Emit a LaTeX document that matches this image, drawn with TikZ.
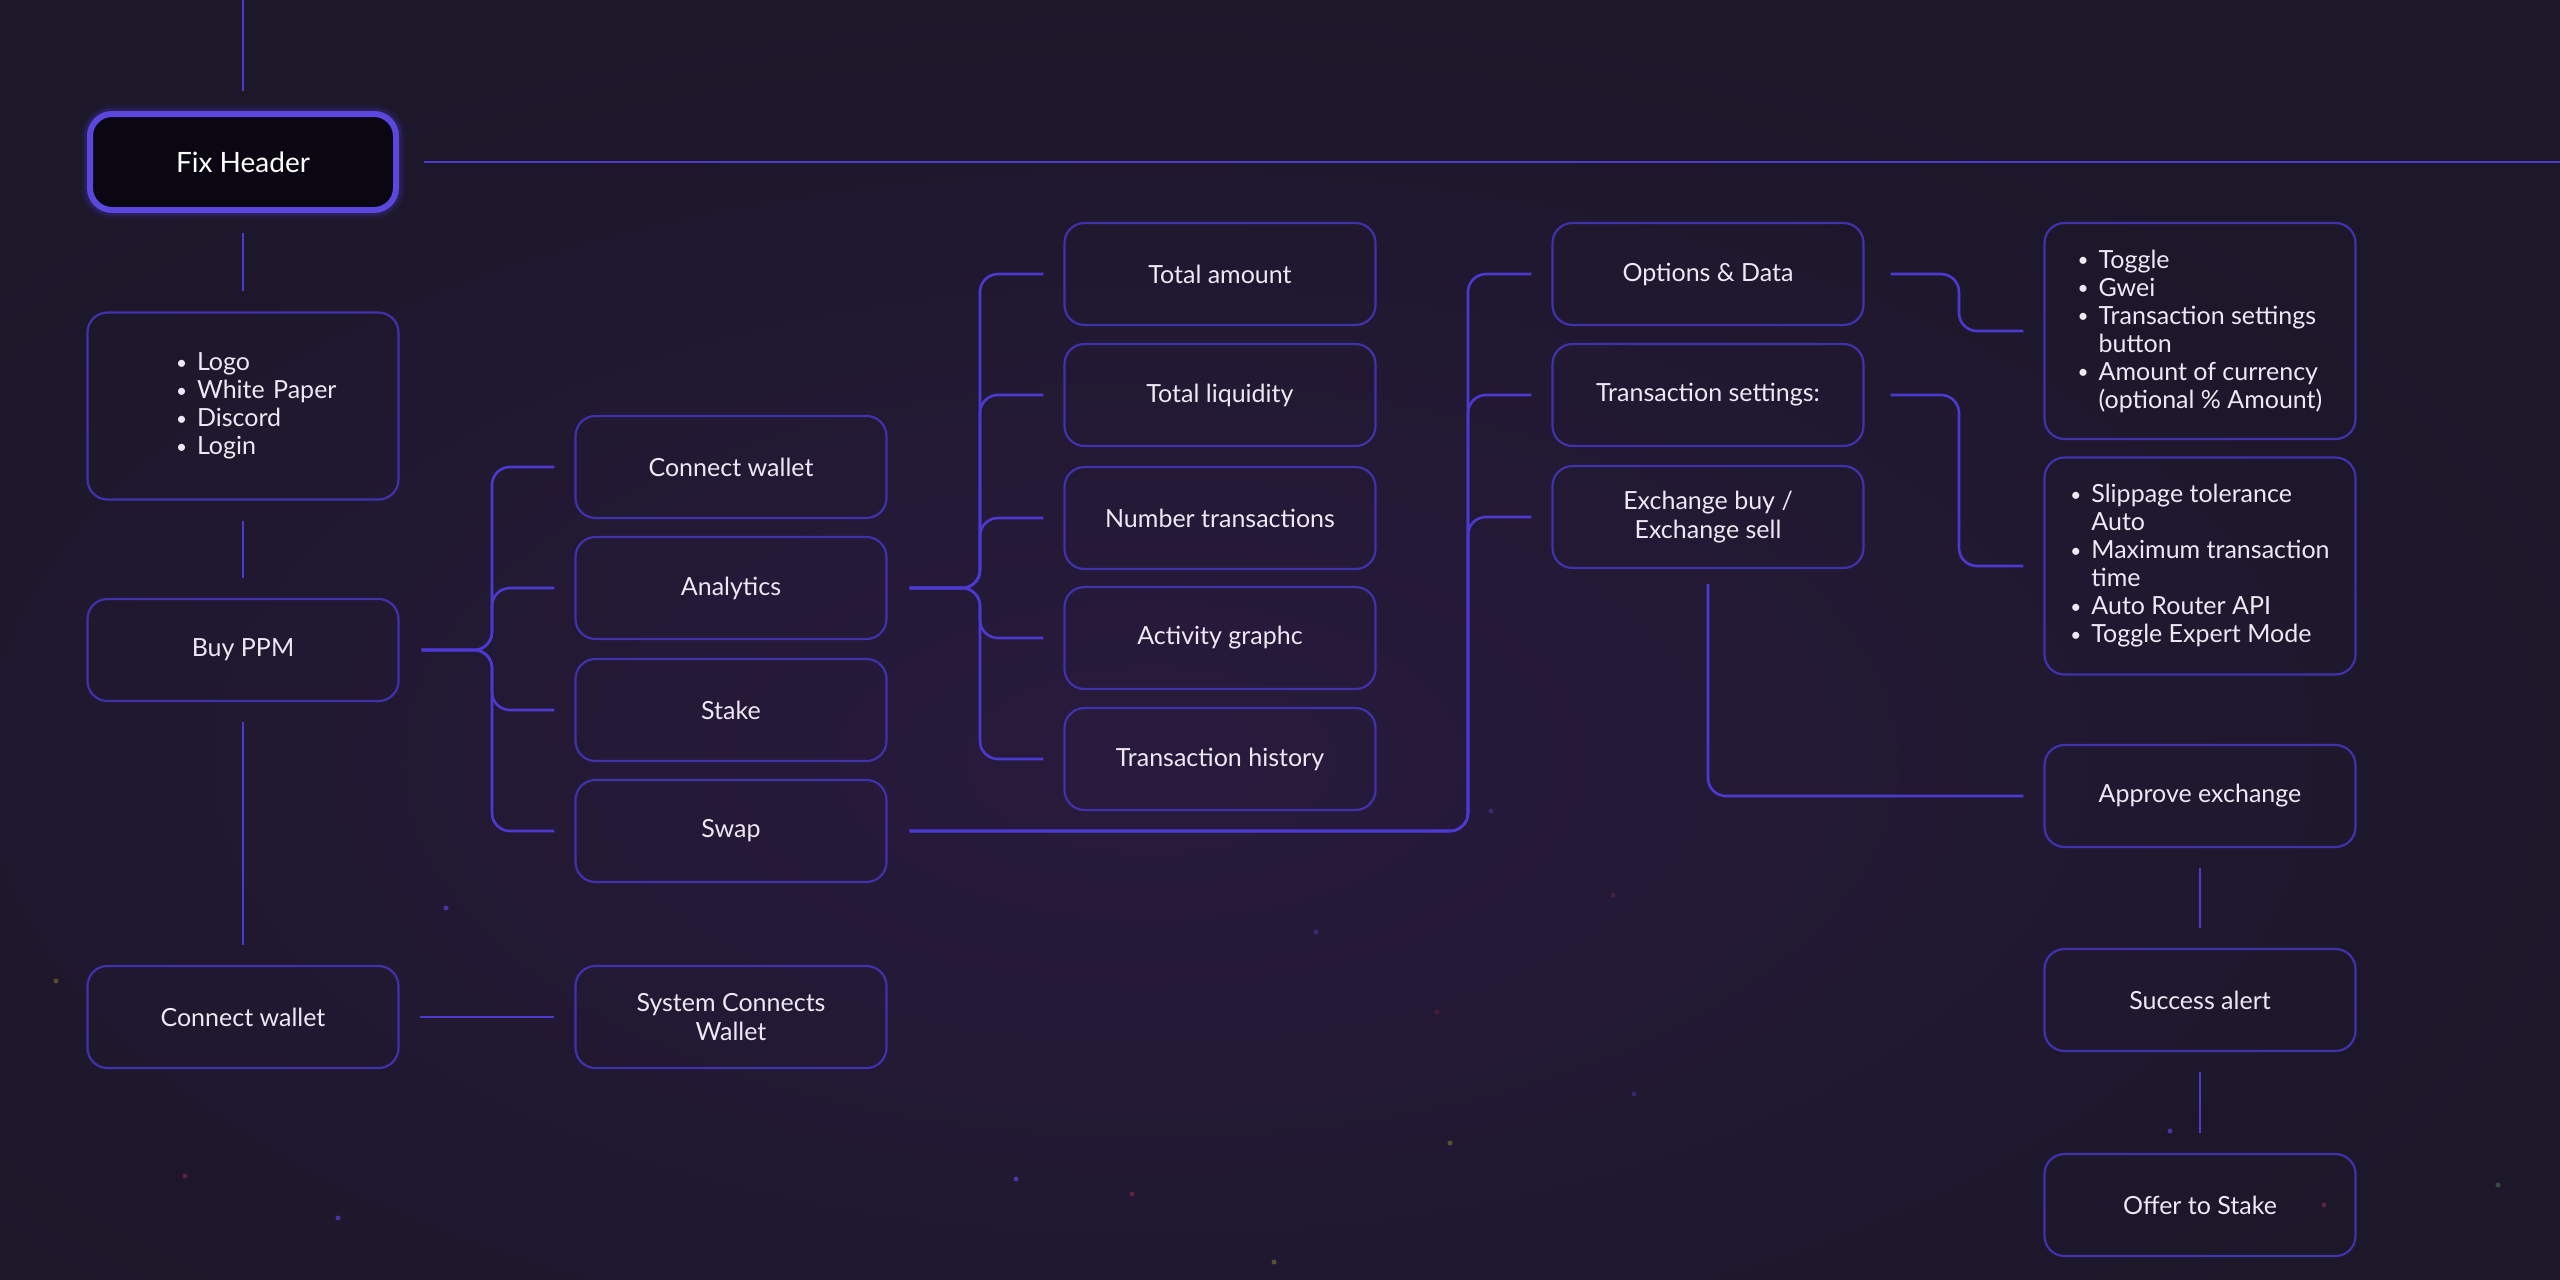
\documentclass[tikz,border=0pt]{standalone}
\usepackage{fontspec}
\setmainfont{Lato}
\definecolor{bg}{HTML}{1C1729}
\definecolor{bgglow}{HTML}{281A3D}
\definecolor{ln}{HTML}{4B39D0}
\definecolor{bx}{HTML}{4031AC}
\definecolor{hdrb}{HTML}{5A47DE}
\definecolor{hdrfill}{HTML}{0A0712}
\definecolor{txt}{HTML}{ECE9F4}
\definecolor{dotp}{HTML}{6A4BFF}
\definecolor{doty}{HTML}{8A7A30}
\definecolor{dotr}{HTML}{9A2A48}
\definecolor{dotg}{HTML}{4A7A50}
\newcommand{\bl}[1]{\mbox{\makebox[21pt][l]{\raisebox{1.5pt}{\fontsize{19}{19}\selectfont •}}#1}}
\newcommand{\bc}[1]{\mbox{\hspace*{21pt}#1}}
\tikzset{
  box/.style={draw=bx, line width=2.2pt, rounded corners=20pt,
    minimum width=311pt, minimum height=102pt, align=center,
    text=txt, font=\fontsize{25}{29}\selectfont, inner sep=0pt},
  listbox/.style={box, align=left, font=\fontsize{25}{28}\selectfont},
  hdrbox/.style={draw=hdrb, line width=6pt, fill=hdrfill, rounded corners=22pt,
    minimum width=306pt, minimum height=96pt, text=white,
    font=\fontsize{28}{30}\selectfont, inner sep=0pt,
    preaction={draw=ln, line width=18pt, opacity=0.10},
    preaction={draw=ln, line width=12pt, opacity=0.18}},
  link/.style={draw=ln, line width=2.6pt, rounded corners=18pt,
    shorten <=22pt, shorten >=20pt},
  vlink/.style={draw=ln, line width=2.6pt, shorten <=20pt, shorten >=20pt},
  star/.style={circle, inner sep=0pt, minimum size=5pt, opacity=0.55},
}
\begin{document}
\begin{tikzpicture}[x=1pt,y=-1pt]
\useasboundingbox (0,0) rectangle (2560,1280);
% background
\fill[bg] (0,0) rectangle (2560,1280);
\shade[inner color=bgglow, outer color=bg] (1150,760) ellipse (1500 and 760);

% stars
\node[star, fill=dotp] (s1) at (446,908) {};
\node[star, fill=doty] (s2) at (56,981) {};
\node[star, fill=dotr] (s3) at (185,1176) {};
\node[star, fill=dotp] (s4) at (338,1218) {};
\node[star, fill=dotp] (s5) at (1016,1179) {};
\node[star, fill=dotr] (s6) at (1132,1194) {};
\node[star, fill=doty] (s7) at (1274,1262) {};
\node[star, fill=doty] (s8) at (1450,1143) {};
\node[star, fill=dotp] (s9) at (2170,1131) {};
\node[star, fill=dotg] (s10) at (2498,1185) {};
\node[star, fill=dotr] (s11) at (2324,1205) {};
\node[star, fill=dotp, opacity=0.3] (s12) at (1491,811) {};
\node[star, fill=dotr, opacity=0.3] (s13) at (1613,895) {};
\node[star, fill=dotp, opacity=0.3] (s14) at (1316,932) {};
\node[star, fill=dotr, opacity=0.3] (s15) at (1437,1012) {};
\node[star, fill=dotp, opacity=0.3] (s16) at (1634,1094) {};

% nodes
\node[hdrbox] (hdr) at (243,162) {Fix Header};
\node[listbox, minimum height=187pt, text width=134pt] (logo) at (243,406)
  {\bl{Logo}\\\bl{White Paper}\\\bl{Discord}\\\bl{Login}};
\node[box] (buy) at (243,650) {Buy PPM};
\node[box] (cwl) at (243,1017) {Connect wallet};
\node[box] (scw) at (731,1017) {System Connects\\Wallet};

\node[box] (cw) at (731,467) {Connect wallet};
\node[box] (ana) at (731,588) {Analytics};
\node[box] (stake) at (731,710) {Stake};
\node[box] (swap) at (731,831) {Swap};

\node[box] (tot) at (1220,274) {Total amount};
\node[box] (liq) at (1220,395) {Total liquidity};
\node[box] (num) at (1220,518) {Number transactions};
\node[box] (act) at (1220,638) {Activity graphc};
\node[box] (hist) at (1220,759) {Transaction history};

\node[box] (opt) at (1708,274) {Options \& Data};
\node[box] (tset) at (1708,395) {Transaction settings:};
\node[box] (exch) at (1708,517) {Exchange buy /\\Exchange sell};

\node[listbox, minimum height=216pt] (togl) at (2200,331)
  {\bl{Toggle}\\\bl{Gwei}\\\bl{Transaction settings}\\\bc{button}\\\bl{Amount of currency}\\\bc{(optional \% Amount)}};
\node[listbox, minimum height=217pt] (slip) at (2200,566)
  {\bl{Slippage tolerance}\\\bc{Auto}\\\bl{Maximum transaction}\\\bc{time}\\\bl{Auto Router API}\\\bl{Toggle Expert Mode}};
\node[box] (appr) at (2200,796) {Approve exchange};
\node[box] (succ) at (2200,1000) {Success alert};
\node[box] (offer) at (2200,1205) {Offer to Stake};

% trunk coordinates
\coordinate (top) at (243,0);
\coordinate (hright) at (2560,162);
\coordinate (tA) at (492,0);
\coordinate (tB) at (980,0);
\coordinate (tC) at (1468,0);
\coordinate (tD) at (1959,0);

% left column
\draw[vlink, shorten <=0pt] (top) -- (hdr.north);
\draw[vlink, shorten <=25pt, shorten >=0pt] (hdr.east) -- (hright);
\draw[vlink] (hdr.south) -- (logo.north);
\draw[vlink] (logo.south) -- (buy.north);
\draw[vlink] (buy.south) -- (cwl.north);
\draw[vlink] (cwl.east) -- (scw.west);

% Buy PPM tree
\foreach \t in {cw,ana,stake,swap}
  \draw[link] (buy.east) -- (buy.east -| tA) |- (\t.west);
% Analytics tree
\foreach \t in {tot,liq,num,act,hist}
  \draw[link] (ana.east) -- (ana.east -| tB) |- (\t.west);
% Swap tree
\foreach \t in {opt,tset,exch}
  \draw[link] (swap.east) -- (swap.east -| tC) |- (\t.west);
% options / settings
\draw[link, shorten <=26pt] (opt.east) -- (opt.east -| tD) |- (togl.west);
\draw[link, shorten <=26pt] (tset.east) -- (tset.east -| tD) |- (slip.west);
% exchange -> approve
\draw[link, shorten <=15pt] (exch.south) |- (appr.west);
\draw[vlink] (appr.south) -- (succ.north);
\draw[vlink] (succ.south) -- (offer.north);
\end{tikzpicture}
\end{document}
